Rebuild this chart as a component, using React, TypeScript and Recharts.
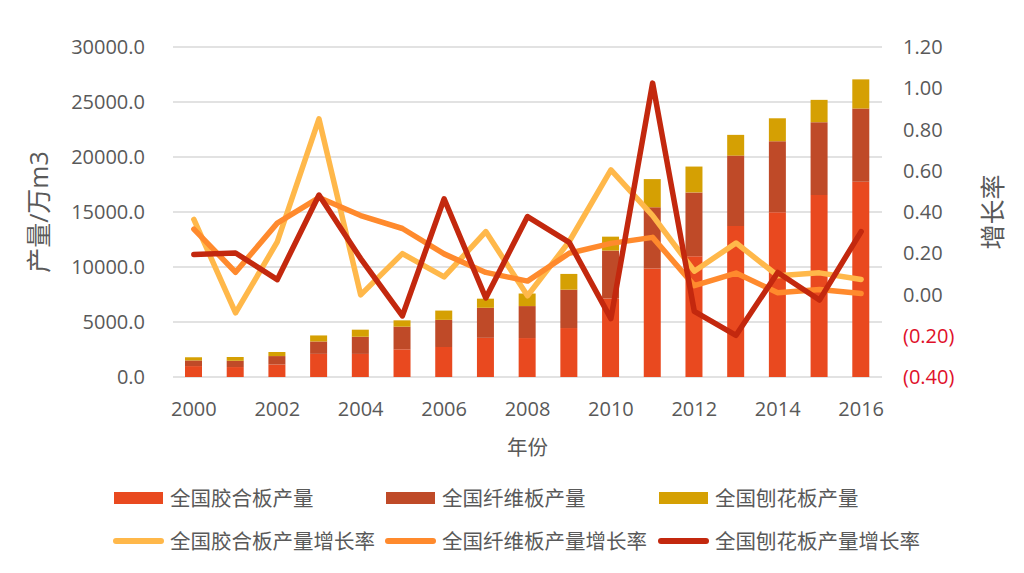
import React from 'react';
import { ComposedChart, Bar, Line, XAxis, YAxis, CartesianGrid, Legend, Label } from 'recharts';

const years = ['2000', '2001', '2002', '2003', '2004', '2005', '2006', '2007', '2008', '2009', '2010', '2011', '2012', '2013', '2014', '2015', '2016'];
const plywood = [992.5, 904.5, 1135.1, 2102.4, 2098.6, 2515.0, 2728.8, 3561.6, 3540.9, 4451.2, 7139.7, 9869.6, 10981.2, 13725.2, 14970.0, 16546.3, 17755.9];
const fiberboard = [514.4, 570.1, 767.4, 1128.3, 1560.5, 2060.6, 2466.6, 2729.9, 2906.6, 3488.6, 4354.5, 5562.1, 5800.4, 6402.1, 6462.6, 6618.5, 6651.2];
const particleboard = [286.8, 344.5, 369.3, 547.4, 642.9, 576.1, 843.3, 829.1, 1142.2, 1431.0, 1264.2, 2559.4, 2349.6, 1885.0, 2087.5, 2030.2, 2650.1];
const plywoodGrowth = [0.364, -0.089, 0.255, 0.852, -0.002, 0.198, 0.085, 0.305, -0.006, 0.257, 0.604, 0.382, 0.113, 0.25, 0.091, 0.105, 0.073];
const fiberGrowth = [0.317, 0.108, 0.346, 0.47, 0.383, 0.32, 0.197, 0.107, 0.065, 0.2, 0.248, 0.277, 0.043, 0.104, 0.009, 0.024, 0.005];
const particleGrowth = [0.194, 0.201, 0.072, 0.482, 0.174, -0.104, 0.464, -0.017, 0.378, 0.253, -0.117, 1.025, -0.082, -0.198, 0.107, -0.027, 0.305];

const leftTicks = [0, 5000, 10000, 15000, 20000, 25000, 30000];
const rightTicks = [-0.4, -0.2, 0, 0.2, 0.4, 0.6, 0.8, 1.0, 1.2];

const barSeries = [
  { key: 'plywood', name: '全国胶合板产量', color: '#E9491F' },
  { key: 'fiberboard', name: '全国纤维板产量', color: '#BF4A28' },
  { key: 'particleboard', name: '全国刨花板产量', color: '#D5A003' },
];
const lineSeries = [
  { key: 'plywoodGrowth', name: '全国胶合板产量增长率', color: '#FFB84A' },
  { key: 'fiberGrowth', name: '全国纤维板产量增长率', color: '#FF8A2D' },
  { key: 'particleGrowth', name: '全国刨花板产量增长率', color: '#C3280E' },
];

const data = years.map((year, i) => ({
  year,
  plywood: plywood[i],
  fiberboard: fiberboard[i],
  particleboard: particleboard[i],
  plywoodGrowth: plywoodGrowth[i],
  fiberGrowth: fiberGrowth[i],
  particleGrowth: particleGrowth[i],
}));

const FONT = "'Open Sans', 'Noto Sans CJK SC', sans-serif";
const GRAY = '#595959';

const RightTick = (props: any) => {
  const { x, y, payload } = props;
  const v = payload.value as number;
  const neg = v < -1e-9;
  const txt = neg ? `(${Math.abs(v).toFixed(2)})` : Math.abs(v).toFixed(2);
  return (
    <text x={x} y={y} dy="0.355em" textAnchor="start" fill={neg ? '#E0102A' : GRAY} fontSize={20} fontFamily={FONT}>
      {txt}
    </text>
  );
};

const VTitle = (props: any) => {
  const { viewBox, value, dxFromLeft } = props;
  const cx = viewBox.x + dxFromLeft;
  const cy = viewBox.y + viewBox.height / 2;
  return (
    <text x={cx} y={cy} transform={`rotate(-90, ${cx}, ${cy})`} textAnchor="middle" dominantBaseline="central" fill={GRAY} fontSize={25} fontFamily={FONT}>
      {value}
    </text>
  );
};

const LegendBox = () => {
  const colX = [114, 386, 659];
  const textX = [170, 442, 715];
  const rowY = [28, 71];
  const items: any[] = [];
  barSeries.forEach((s, i) => {
    items.push(
      <div key={s.key}>
        <div style={{ position: 'absolute', left: colX[i], top: rowY[0] - 6, width: 49, height: 12, background: s.color }} />
        <div style={{ position: 'absolute', left: textX[i], top: rowY[0] - 15, height: 30, lineHeight: '30px', fontSize: 20.5, color: GRAY, fontFamily: FONT, whiteSpace: 'nowrap' }}>{s.name}</div>
      </div>
    );
  });
  lineSeries.forEach((s, i) => {
    items.push(
      <div key={s.key}>
        <div style={{ position: 'absolute', left: colX[i] - 1, top: rowY[1] - 3, width: 51, height: 6, borderRadius: 3, background: s.color }} />
        <div style={{ position: 'absolute', left: textX[i], top: rowY[1] - 15, height: 30, lineHeight: '30px', fontSize: 20.5, color: GRAY, fontFamily: FONT, whiteSpace: 'nowrap' }}>{s.name}</div>
      </div>
    );
  });
  return <div style={{ position: 'relative', width: 1024, height: 100 }}>{items}</div>;
};

export default function App() {
  return (
    <div style={{ position: 'absolute', left: 0, top: 0, width: 1024, height: 573, background: '#fff', fontFamily: FONT }}>
      <ComposedChart width={1024} height={573} data={data} margin={{ top: 47, right: 0, bottom: 0, left: 0 }} barSize={17}>
        <CartesianGrid yAxisId="left" vertical={false} stroke="#d9d9d9" strokeWidth={1.5} />
        <XAxis
          dataKey="year"
          interval={1}
          axisLine={false}
          tickLine={false}
          tickMargin={19}
          height={196}
          tick={{ fill: GRAY, fontSize: 20, fontFamily: FONT }}
        >
          <Label value="年份" position="insideTop" offset={63} fill={GRAY} fontSize={20.5} fontFamily={FONT} />
        </XAxis>
        <YAxis
          yAxisId="left"
          width={173}
          domain={[0, 30000]}
          ticks={leftTicks}
          tickFormatter={(v: number) => v.toFixed(1)}
          axisLine={false}
          tickLine={false}
          tickMargin={22}
          tick={{ fill: GRAY, fontSize: 20, fontFamily: FONT }}
          label={<VTitle value="产量/万m3" dxFromLeft={38} />}
        />
        <YAxis
          yAxisId="right"
          orientation="right"
          width={142}
          domain={[-0.4, 1.2]}
          ticks={rightTicks}
          axisLine={false}
          tickLine={false}
          tickMargin={15}
          tick={<RightTick />}
          label={<VTitle value="增长率" dxFromLeft={110} />}
        />
        {barSeries.map((s) => (
          <Bar key={s.key} yAxisId="left" dataKey={s.key} name={s.name} stackId="a" fill={s.color} isAnimationActive={false} />
        ))}
        {lineSeries.map((s) => (
          <Line
            key={s.key}
            yAxisId="right"
            type="linear"
            dataKey={s.key}
            name={s.name}
            stroke={s.color}
            strokeWidth={5.5}
            strokeLinejoin="round"
            strokeLinecap="round"
            dot={false}
            activeDot={false}
            isAnimationActive={false}
          />
        ))}
        <Legend
          verticalAlign="middle"
          align="center"
          layout="horizontal"
          content={() => <LegendBox />}
          wrapperStyle={{ position: 'absolute', left: 0, top: 470, width: 1024, height: 100 }}
        />
      </ComposedChart>
    </div>
  );
}
